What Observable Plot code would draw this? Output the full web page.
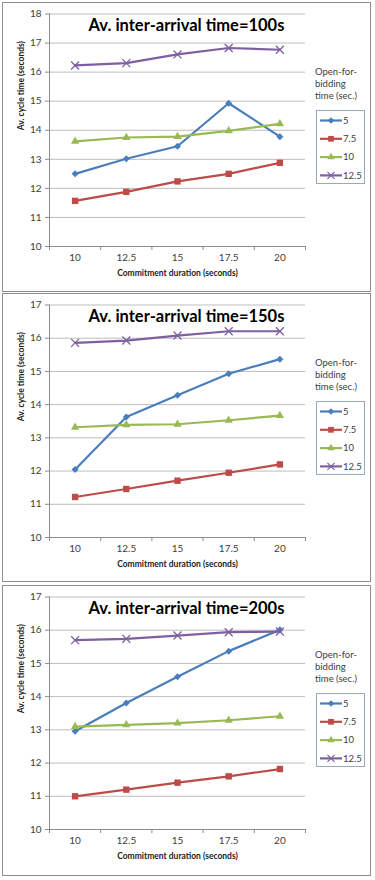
<!DOCTYPE html>
<html>
<head>
<meta charset="utf-8">
<script src="https://cdn.jsdelivr.net/npm/d3@7"></script>
<script src="https://cdn.jsdelivr.net/npm/@observablehq/plot@0.6"></script>
<style>
  html, body { margin: 0; padding: 0; background: #fff; }
  body { width: 375px; height: 880px; position: relative; font-family: Lato, "Liberation Sans", sans-serif; }
  .panel { position: absolute; left: 2px; width: 367px; border: 1px solid #8f8f8f; background: #fff; }
  .panel svg { display: block; }
  .title { position: absolute; left: 0; width: 367px; text-align: center; font-weight: bold; font-size: 16.5px; color: #000; white-space: nowrap; line-height: 20px; }
  .lg-head { position: absolute; left: 312px; font-size: 9.5px; line-height: 12px; color: #404040; }
  .lg-box { position: absolute; left: 313px; width: 47px; height: 72px; border: 1px solid #9aa8bd; background: #fff; }
  .lg-box svg { position: absolute; left: 0; top: 0; }
</style>
</head>
<body>
<div id="root"></div>
<script>
// Commitment duration categories (seconds) and open-for-bidding series
const commitment = [10, 12.5, 15, 17.5, 20];
const openTimes = ["5", "7.5", "10", "12.5"];

// Average cycle time (seconds), inter-arrival time = 100 s
const ia100_5   = [12.5, 13.02, 13.45, 14.93, 13.78];
const ia100_7_5 = [11.57, 11.88, 12.24, 12.5, 12.88];
const ia100_10  = [13.62, 13.75, 13.78, 13.98, 14.22];
const ia100_12_5 = [16.23, 16.31, 16.61, 16.83, 16.77];

// Inter-arrival time = 150 s
const ia150_5   = [12.05, 13.63, 14.28, 14.93, 15.37];
const ia150_7_5 = [11.22, 11.46, 11.71, 11.95, 12.2];
const ia150_10  = [13.32, 13.39, 13.41, 13.53, 13.67];
const ia150_12_5 = [15.86, 15.93, 16.08, 16.21, 16.21];

// Inter-arrival time = 200 s
const ia200_5   = [12.96, 13.81, 14.6, 15.37, 16.01];
const ia200_7_5 = [11.0, 11.2, 11.41, 11.6, 11.82];
const ia200_10  = [13.1, 13.15, 13.2, 13.29, 13.41];
const ia200_12_5 = [15.7, 15.74, 15.84, 15.94, 15.96];

const titles = ["Av. inter-arrival time=100s", "Av. inter-arrival time=150s", "Av. inter-arrival time=200s"];
const yMaxes = [18, 17, 17];
const seriesSets = [
  [ia100_5, ia100_7_5, ia100_10, ia100_12_5],
  [ia150_5, ia150_7_5, ia150_10, ia150_12_5],
  [ia200_5, ia200_7_5, ia200_10, ia200_12_5]
];

const colors = ["#4a7ebb", "#be4b48", "#98b954", "#7d60a0"];
const marker = [
  {symbol: "square", rotate: 45, r: 2.8, filled: true},
  {symbol: "square", rotate: 0, r: 3.6, filled: true},
  {symbol: "triangle", rotate: 0, r: 3.1, filled: true},
  {symbol: "times", rotate: 0, r: 3.7, filled: false}
];

const panelTops = [2, 293, 585];
const panelHeights = [288, 287, 289];
const axisGrey = "#8c8c8c";
const gridGrey = "#bdbdbd";
const fontFamily = 'Lato, "Liberation Sans", sans-serif';

const root = document.getElementById("root");

titles.forEach((title, p) => {
  const yMax = yMaxes[p];
  const h = panelHeights[p];
  const yTicks = d3.range(10, yMax + 1);
  const bounds = d3.range(0, commitment.length + 1).map(i => 8.75 + 2.5 * i);

  const seriesMarks = seriesSets[p].flatMap((vals, k) => {
    const rows = commitment.map((c, i) => ({c, v: vals[i], o: openTimes[k]}));
    const m = marker[k];
    return [
      Plot.line(rows, {x: "c", y: "v", stroke: colors[k], strokeWidth: 2.2}),
      Plot.dot(rows, {
        x: "c", y: "v", symbol: () => m.symbol, r: m.r, rotate: m.rotate,
        fill: m.filled ? colors[k] : "none",
        stroke: m.filled ? "none" : colors[k],
        strokeWidth: m.filled ? 0 : 1.3
      })
    ];
  });

  const chart = Plot.plot({
    width: 367,
    height: h,
    marginTop: 10.5,
    marginBottom: h - 243,
    marginLeft: 46,
    marginRight: 65,
    x: {domain: [8.75, 21.25]},
    y: {domain: [10, yMax]},
    symbol: {type: "identity"},
    style: {fontFamily, fontSize: "10px", color: "#404040", background: "#fff", overflow: "visible"},
    marks: [
      Plot.gridY(yTicks.filter(t => t > 10), {stroke: gridGrey, strokeOpacity: 1}),
      Plot.ruleY([10], {stroke: axisGrey}),
      Plot.ruleX([8.75], {stroke: axisGrey}),
      Plot.axisY(yTicks, {tickSize: 4, tickPadding: 4, stroke: axisGrey, label: null, fill: "#404040"}),
      Plot.axisX(bounds, {tickSize: 4, stroke: axisGrey, tickFormat: () => "", label: null}),
      Plot.text(commitment, {x: d => d, frameAnchor: "bottom", dy: 14, text: d => String(d), fill: "#404040"}),
      Plot.text(["Commitment duration (seconds)"], {frameAnchor: "bottom", dy: 29, fontWeight: "bold", fontSize: 8.5, fill: "#222"}),
      Plot.text(["Av. cycle time (seconds)"], {frameAnchor: "left", rotate: -90, dx: -28, fontWeight: "bold", fontSize: 8.5, fill: "#222"}),
      ...seriesMarks
    ]
  });

  const panel = document.createElement("div");
  panel.className = "panel";
  panel.style.top = panelTops[p] + "px";
  panel.style.height = h + "px";
  panel.appendChild(chart);

  const t = document.createElement("div");
  t.className = "title";
  t.style.top = "12px";
  t.textContent = title;
  panel.appendChild(t);

  ["Open-for-", "bidding", "time (sec.)"].forEach((line, i) => {
    const d = document.createElement("div");
    d.className = "lg-head";
    d.style.top = (63 + 12 * i) + "px";
    d.textContent = line;
    panel.appendChild(d);
  });

  const box = document.createElement("div");
  box.className = "lg-box";
  box.style.top = "107px";
  const svg = d3.create("svg").attr("width", 47).attr("height", 72)
    .style("font-family", fontFamily).style("font-size", "9.5px");
  openTimes.forEach((name, k) => {
    const cy = 9.5 + 18.3 * k;
    const m = marker[k];
    svg.append("line").attr("x1", 3).attr("x2", 25).attr("y1", cy).attr("y2", cy)
      .attr("stroke", colors[k]).attr("stroke-width", 2.2);
    const sym = {square: d3.symbolSquare, triangle: d3.symbolTriangle, times: d3.symbolTimes}[m.symbol];
    svg.append("path")
      .attr("d", d3.symbol(sym, m.r * m.r * Math.PI * 0.8)())
      .attr("transform", `translate(14,${cy}) rotate(${m.rotate})`)
      .attr("fill", m.filled ? colors[k] : "none")
      .attr("stroke", m.filled ? "none" : colors[k])
      .attr("stroke-width", 1.2);
    svg.append("text").attr("x", 26).attr("y", cy).attr("dy", "0.35em")
      .attr("fill", "#404040").text(name);
  });
  box.appendChild(svg.node());
  panel.appendChild(box);

  root.appendChild(panel);
});
</script>
</body>
</html>
